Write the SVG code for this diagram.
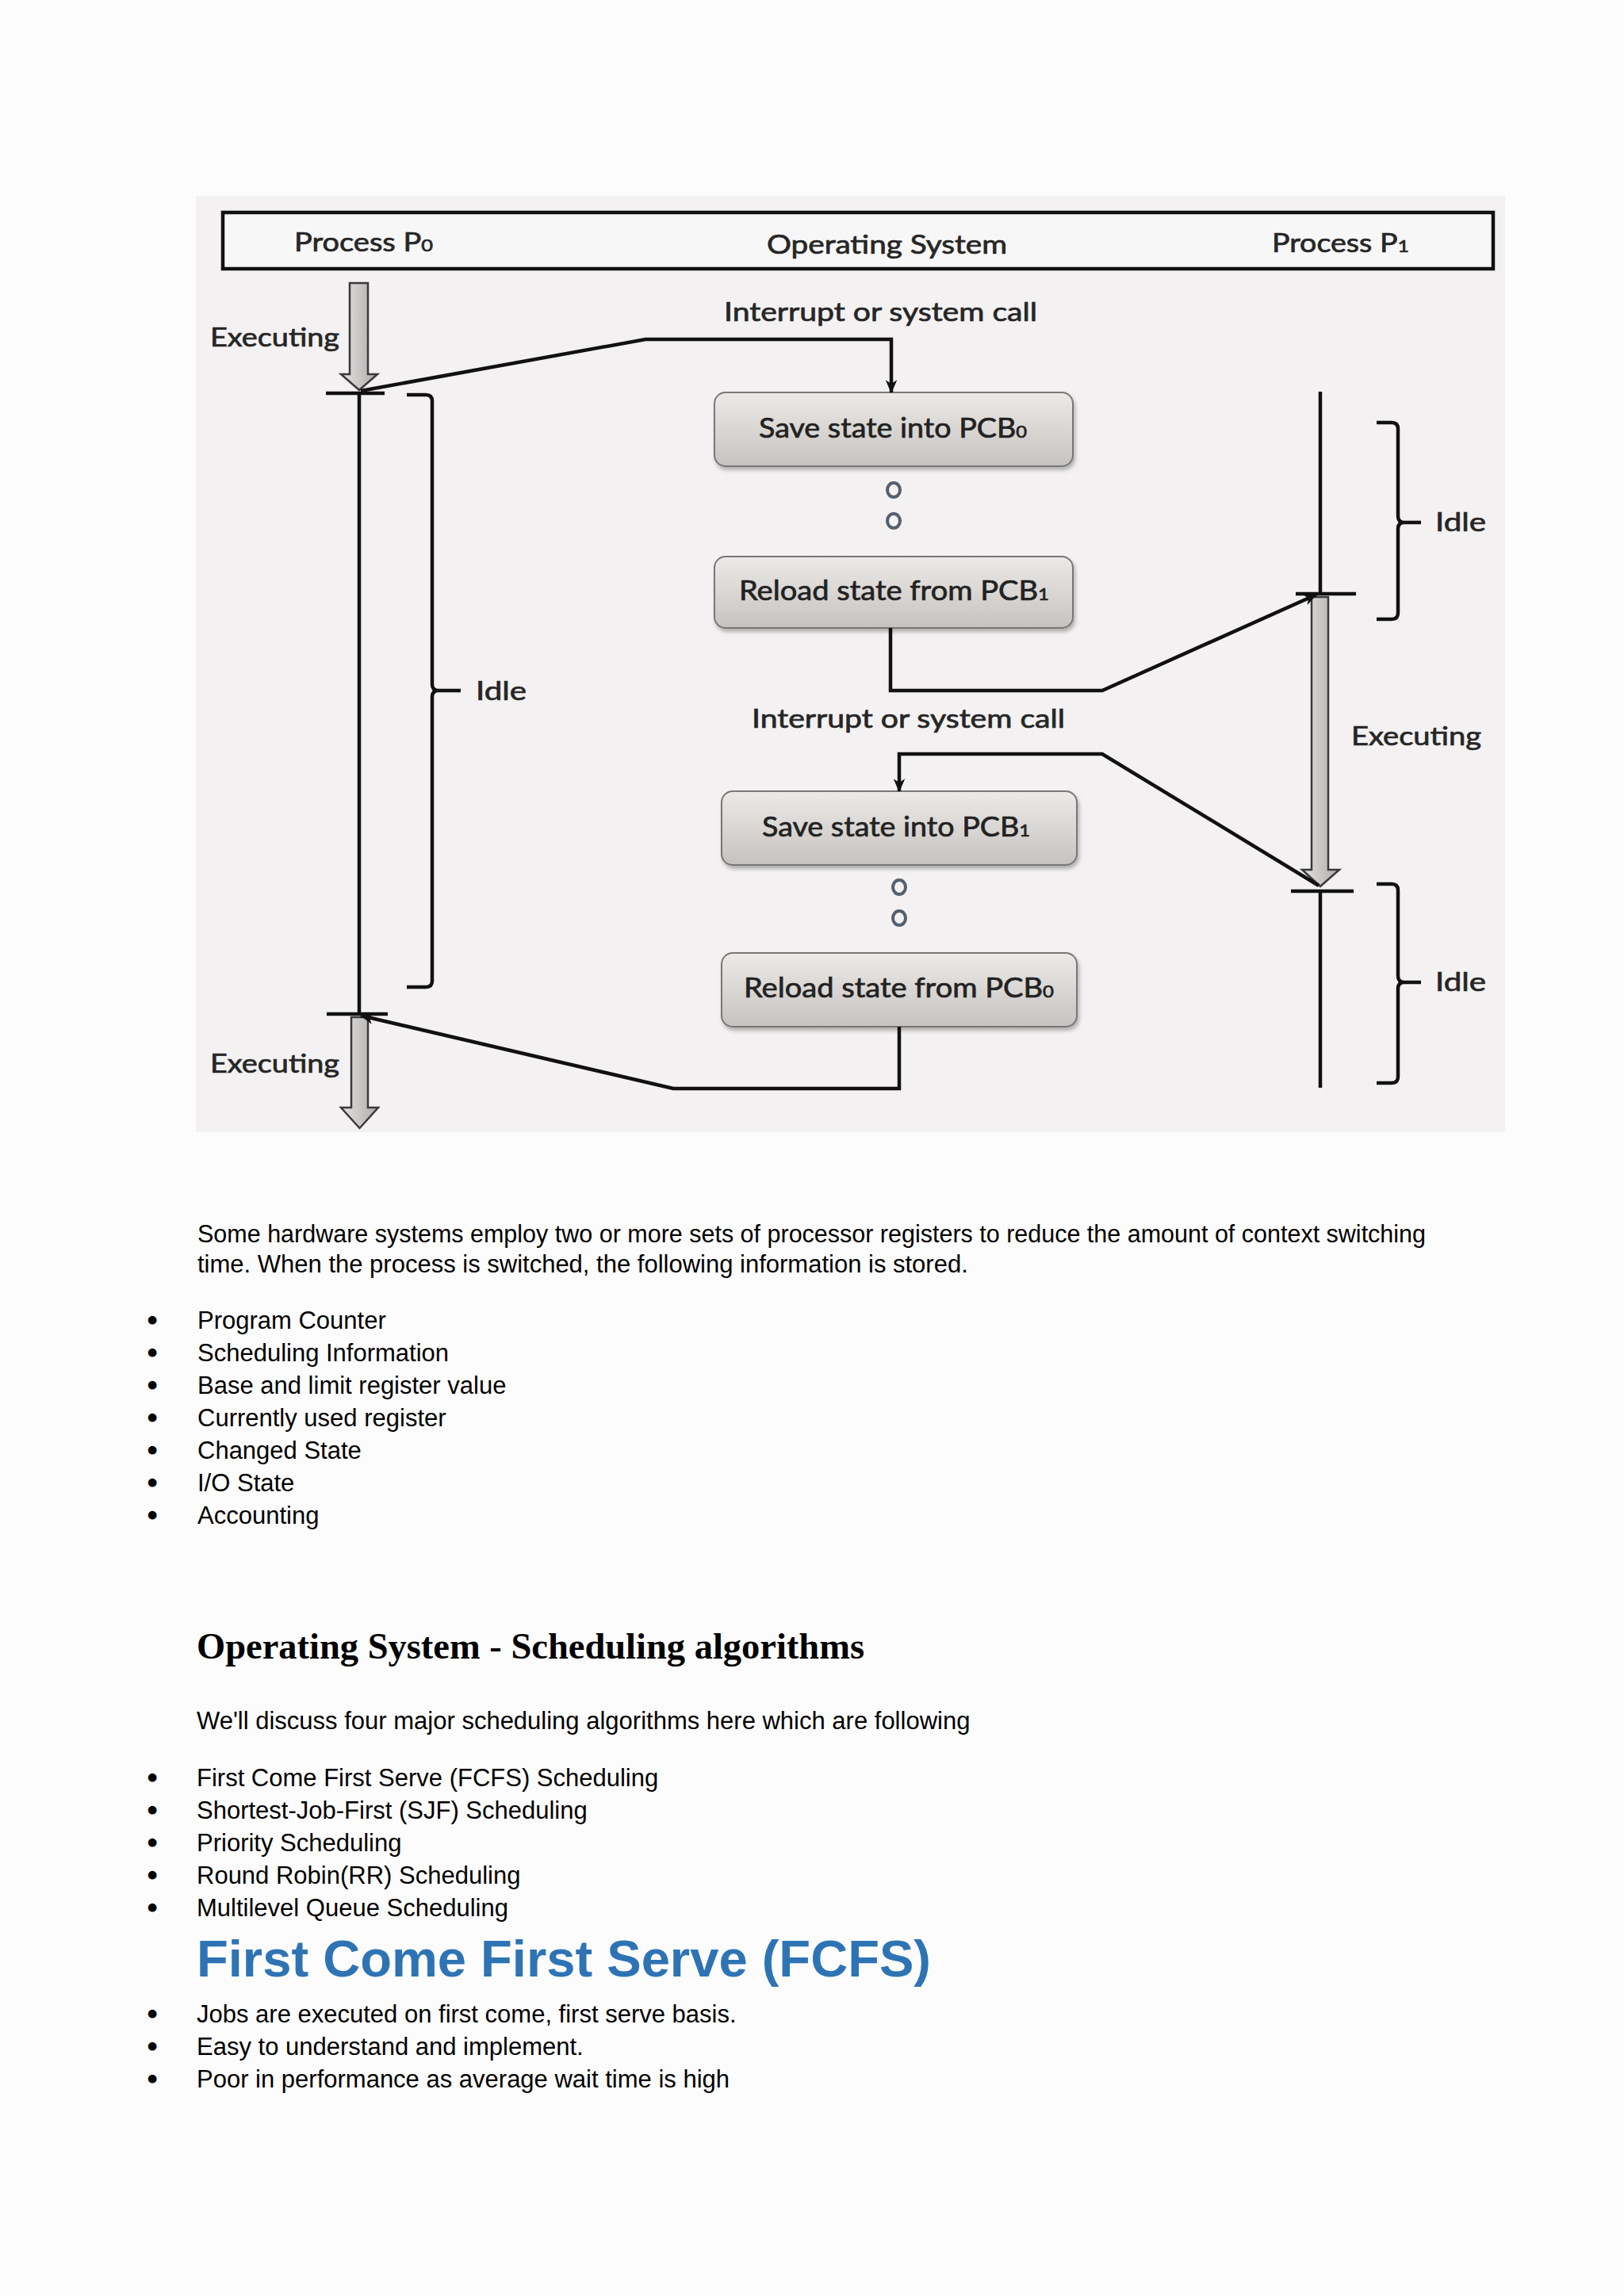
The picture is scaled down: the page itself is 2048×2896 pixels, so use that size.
<svg xmlns="http://www.w3.org/2000/svg" width="2048" height="2896" viewBox="0 0 2048 2896">
<style>
.lbl{font-family:Lato,"Open Sans","Liberation Sans",sans-serif;fill:#262626;stroke:#262626;stroke-width:0.7;font-size:33px}
.box-t{font-family:Lato,"Open Sans","Liberation Sans",sans-serif;fill:#222;stroke:#222;stroke-width:0.7;font-size:35px}
.ln{fill:none;stroke:#111;stroke-width:4.5;stroke-linejoin:miter}
.br{fill:none;stroke:#111;stroke-width:4.5}
.box{fill:url(#boxg);stroke:#7a7876;stroke-width:2;filter:url(#sh)}
.blk{fill:url(#arrg);stroke:#3a3a3a;stroke-width:2.5;stroke-linejoin:miter}
.dot{fill:none;stroke:#55606c;stroke-width:4}
.body{font-family:"Liberation Sans",Arial,sans-serif;font-size:31px;fill:#000}
.bul{font-family:"Liberation Sans",Arial,sans-serif;font-size:35px;fill:#000;stroke:#000;stroke-width:1.2}
.h2{font-family:"Liberation Serif","Times New Roman",serif;font-weight:bold;font-size:46px;fill:#000}
.h1{font-family:"Liberation Sans",Arial,sans-serif;font-weight:bold;font-size:64px;fill:#2e74b5}
</style>
<defs>
<linearGradient id="boxg" x1="0" y1="0" x2="0" y2="1">
<stop offset="0" stop-color="#eceae8"/>
<stop offset="1" stop-color="#c6c2bf"/>
</linearGradient>
<linearGradient id="arrg" x1="0" y1="0" x2="1" y2="0">
<stop offset="0" stop-color="#e4e2e2"/>
<stop offset="1" stop-color="#aeaaaa"/>
</linearGradient>
<filter id="sh" x="-10%" y="-20%" width="120%" height="150%">
<feDropShadow dx="2" dy="4" stdDeviation="2.5" flood-color="#777" flood-opacity="0.55"/>
</filter>
<marker id="ah" viewBox="0 0 14 12" markerWidth="17" markerHeight="15" refX="13" refY="6" orient="auto" markerUnits="userSpaceOnUse">
<path d="M0,0 L14,6 L0,12 L4,6 z" fill="#111"/>
</marker>
</defs>
<rect x="0" y="0" width="2048" height="2896" fill="#fdfcfc"/>
<rect x="247" y="247" width="1651" height="1181" fill="#f3f1f1"/>

<g id="header">
<rect x="281" y="268" width="1602" height="71" fill="#f8f7f7" stroke="#111" stroke-width="4.5"/>
<text class="lbl" x="371" y="317" textLength="175" lengthAdjust="spacingAndGlyphs">Process P<tspan font-size="22">0</tspan></text>
<text class="lbl" x="967" y="320" textLength="303" lengthAdjust="spacingAndGlyphs">Operating System</text>
<text class="lbl" x="1604" y="318" textLength="173" lengthAdjust="spacingAndGlyphs">Process P<tspan font-size="22">1</tspan></text>
</g>

<g id="process-p0">
<path class="blk" d="M441,357 L464,357 L464,472 L476,472 L453,492 L430,472 L441,472 Z"/>
<text class="lbl" x="265" y="437" textLength="163" lengthAdjust="spacingAndGlyphs">Executing</text>
<line class="ln" x1="453" y1="496" x2="453" y2="1279"/>
<line class="ln" x1="411" y1="496" x2="485" y2="496"/>
<line class="ln" x1="412" y1="1279" x2="489" y2="1279"/>
<path class="br" d="M513,498 L537,498 Q545,498 545,506 L545,863 Q545,871 553,871 L581,871 M553,871 Q545,871 545,879 L545,1237 Q545,1245 537,1245 L513,1245"/>
<text class="lbl" x="600" y="883" textLength="64" lengthAdjust="spacingAndGlyphs">Idle</text>
<path class="blk" d="M443,1283 L464,1283 L464,1397 L477,1397 L453.5,1423 L430,1397 L443,1397 Z"/>
<text class="lbl" x="265" y="1353" textLength="163" lengthAdjust="spacingAndGlyphs">Executing</text>
</g>

<g id="process-p1">
<line class="ln" x1="1665" y1="494" x2="1665" y2="749"/>
<line class="ln" x1="1634" y1="749" x2="1710" y2="749"/>
<path class="blk" d="M1654,753 L1675,753 L1675,1097 L1689,1097 L1665,1118 L1642,1097 L1654,1097 Z"/>
<text class="lbl" x="1704" y="940" textLength="164" lengthAdjust="spacingAndGlyphs">Executing</text>
<line class="ln" x1="1628" y1="1124" x2="1707" y2="1124"/>
<line class="ln" x1="1665" y1="1124" x2="1665" y2="1372"/>
<path class="br" d="M1736,533 L1755,533 Q1763,533 1763,541 L1763,651 Q1763,659 1771,659 L1792,659 M1771,659 Q1763,659 1763,667 L1763,773 Q1763,781 1755,781 L1736,781"/>
<text class="lbl" x="1810" y="670" textLength="64" lengthAdjust="spacingAndGlyphs">Idle</text>
<path class="br" d="M1736,1115 L1755,1115 Q1763,1115 1763,1123 L1763,1231 Q1763,1239 1771,1239 L1792,1239 M1771,1239 Q1763,1239 1763,1247 L1763,1358 Q1763,1366 1755,1366 L1736,1366"/>
<text class="lbl" x="1810" y="1250" textLength="64" lengthAdjust="spacingAndGlyphs">Idle</text>
</g>

<g id="os-label-1">
<text class="lbl" x="913" y="405" textLength="395" lengthAdjust="spacingAndGlyphs">Interrupt or system call</text>
</g>
<g id="save-pcb0">
<rect class="box" x="901" y="495" width="452" height="93" rx="14"/>
<text class="box-t" x="957" y="552" textLength="338" lengthAdjust="spacingAndGlyphs">Save state into PCB<tspan font-size="22">0</tspan></text>
</g>
<g id="dots-1">
<ellipse class="dot" cx="1127" cy="618" rx="8" ry="9"/>
<ellipse class="dot" cx="1127" cy="657" rx="8" ry="9"/>
</g>
<g id="reload-pcb1">
<rect class="box" x="901" y="702" width="452" height="90" rx="14"/>
<text class="box-t" x="932" y="757" textLength="391" lengthAdjust="spacingAndGlyphs">Reload state from PCB<tspan font-size="22">1</tspan></text>
</g>
<g id="os-label-2">
<text class="lbl" x="948" y="918" textLength="395" lengthAdjust="spacingAndGlyphs">Interrupt or system call</text>
</g>
<g id="save-pcb1">
<rect class="box" x="910" y="998" width="448" height="93" rx="14"/>
<text class="box-t" x="961" y="1055" textLength="338" lengthAdjust="spacingAndGlyphs">Save state into PCB<tspan font-size="22">1</tspan></text>
</g>
<g id="dots-2">
<ellipse class="dot" cx="1134" cy="1119" rx="8" ry="9"/>
<ellipse class="dot" cx="1134" cy="1158" rx="8" ry="9"/>
</g>
<g id="reload-pcb0">
<rect class="box" x="910" y="1202" width="448" height="93" rx="14"/>
<text class="box-t" x="938" y="1258" textLength="391" lengthAdjust="spacingAndGlyphs">Reload state from PCB<tspan font-size="22">0</tspan></text>
</g>

<g id="connectors">
<polyline class="ln" points="455,493 814,428 1124,428 1124,495" marker-end="url(#ah)"/>
<polyline class="ln" points="1123,792 1123,871 1390,871 1660,750" marker-end="url(#ah)"/>
<polyline class="ln" points="1663,1117 1390,951 1134,951 1134,998" marker-end="url(#ah)"/>
<polyline class="ln" points="1134,1295 1134,1373 849,1373 455,1281" marker-end="url(#ah)"/>
</g>

<g id="text-body">
<text class="body" x="249" y="1567" textLength="1549" lengthAdjust="spacingAndGlyphs">Some hardware systems employ two or more sets of processor registers to reduce the amount of context switching</text>
<text class="body" x="249" y="1605">time. When the process is switched, the following information is stored.</text>
<text class="bul" x="186" y="1677">•</text><text class="body" x="249" y="1676">Program Counter</text>
<text class="bul" x="186" y="1718">•</text><text class="body" x="249" y="1717">Scheduling Information</text>
<text class="bul" x="186" y="1759">•</text><text class="body" x="249" y="1758">Base and limit register value</text>
<text class="bul" x="186" y="1800">•</text><text class="body" x="249" y="1799">Currently used register</text>
<text class="bul" x="186" y="1841">•</text><text class="body" x="249" y="1840">Changed State</text>
<text class="bul" x="186" y="1882">•</text><text class="body" x="249" y="1881">I/O State</text>
<text class="bul" x="186" y="1923">•</text><text class="body" x="249" y="1922">Accounting</text>

<text class="h2" x="248" y="2092" textLength="842" lengthAdjust="spacingAndGlyphs">Operating System - Scheduling algorithms</text>
<text class="body" x="248" y="2181">We'll discuss four major scheduling algorithms here which are following</text>
<text class="bul" x="186" y="2254">•</text><text class="body" x="248" y="2253">First Come First Serve (FCFS) Scheduling</text>
<text class="bul" x="186" y="2295">•</text><text class="body" x="248" y="2294">Shortest-Job-First (SJF) Scheduling</text>
<text class="bul" x="186" y="2336">•</text><text class="body" x="248" y="2335">Priority Scheduling</text>
<text class="bul" x="186" y="2377">•</text><text class="body" x="248" y="2376">Round Robin(RR) Scheduling</text>
<text class="bul" x="186" y="2418">•</text><text class="body" x="248" y="2417">Multilevel Queue Scheduling</text>

<text class="h1" x="248" y="2493" textLength="926" lengthAdjust="spacingAndGlyphs">First Come First Serve (FCFS)</text>
<text class="bul" x="186" y="2552">•</text><text class="body" x="248" y="2551">Jobs are executed on first come, first serve basis.</text>
<text class="bul" x="186" y="2593">•</text><text class="body" x="248" y="2592">Easy to understand and implement.</text>
<text class="bul" x="186" y="2634">•</text><text class="body" x="248" y="2633">Poor in performance as average wait time is high</text>
</g>
</svg>
